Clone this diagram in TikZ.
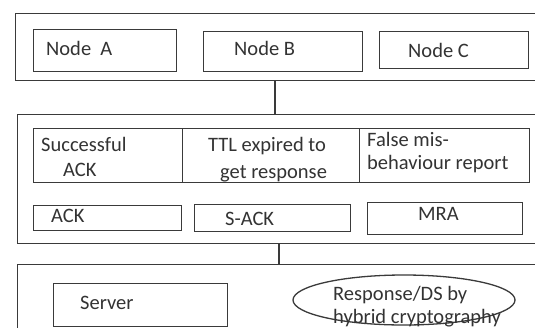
\documentclass[tikz,border=0pt]{standalone}
\usepackage{fontspec}
\setmainfont{Carlito}
\usetikzlibrary{shapes.geometric}
\definecolor{ln}{HTML}{3A3A3A}
\definecolor{tx}{HTML}{333333}
\begin{document}
\begin{tikzpicture}[x=1pt,y=-1pt,
  box/.style={draw=ln,line width=1.3pt,rectangle,inner sep=0pt,anchor=north west},
  txt/.style={anchor=base west,inner sep=0pt,text=tx,font=\fontsize{20.5}{24}\selectfont},
  conn/.style={draw=ln,line width=1.3pt}]
\useasboundingbox[fill=white] (0,0) rectangle (535,327);
% containers
\node[box,minimum width=530,minimum height=67] (top) at (15,13) {};
\node[box,minimum width=530,minimum height=129] (mid) at (17,114) {};
\node[box,minimum width=530,minimum height=80] (bot) at (17,264) {};
% top row
\node[box,minimum width=143,minimum height=42] (na) at (33,29) {};
\node[box,minimum width=159,minimum height=40] (nb) at (203,31) {};
\node[box,minimum width=149,minimum height=37] (nc) at (379,31) {};
\node[txt] (tna) at (46,55) {Node\ \ A};
\node[txt] (tnb) at (234,55) {Node B};
\node[txt] (tnc) at (408,57) {Node C};
% table row
\node[box,minimum width=149,minimum height=54] (t1) at (33,128) {};
\node[box,minimum width=177,minimum height=54] (t2) at (182,128) {};
\node[box,minimum width=170,minimum height=54] (t3) at (359,128) {};
\node[txt] at (41,151) {Successful};
\node[txt] at (63,176) {ACK};
\node[txt] at (208,151) {TTL expired to};
\node[txt] at (220,178) {get response};
\node[txt] at (367,146) {False mis-};
\node[txt] at (367,169) {behaviour report};
% second row
\node[box,minimum width=148,minimum height=25] (ack) at (33,205) {};
\node[box,minimum width=156,minimum height=27] (sack) at (194,204) {};
\node[box,minimum width=155,minimum height=32] (mra) at (367,202) {};
\node[txt] at (51,222) {ACK};
\node[txt] at (225,225) {S-ACK};
\node[txt] at (418,220) {MRA};
% bottom
\node[box,minimum width=174,minimum height=43] (srv) at (53,283) {};
\node[txt] at (80,309) {Server};
\node[draw=ln,line width=1.3pt,ellipse,minimum width=222,minimum height=50,inner sep=0pt] (resp) at (404,300) {};
\node[txt] at (333,300) {Response/DS by};
\node[txt] at (333,323) {hybrid cryptography};
% connectors
\draw[conn] (top.south -| 275,0) -- (mid.north -| 275,0);
\draw[conn] (mid.south -| 279,0) -- (bot.north -| 279,0);
\end{tikzpicture}
\end{document}
